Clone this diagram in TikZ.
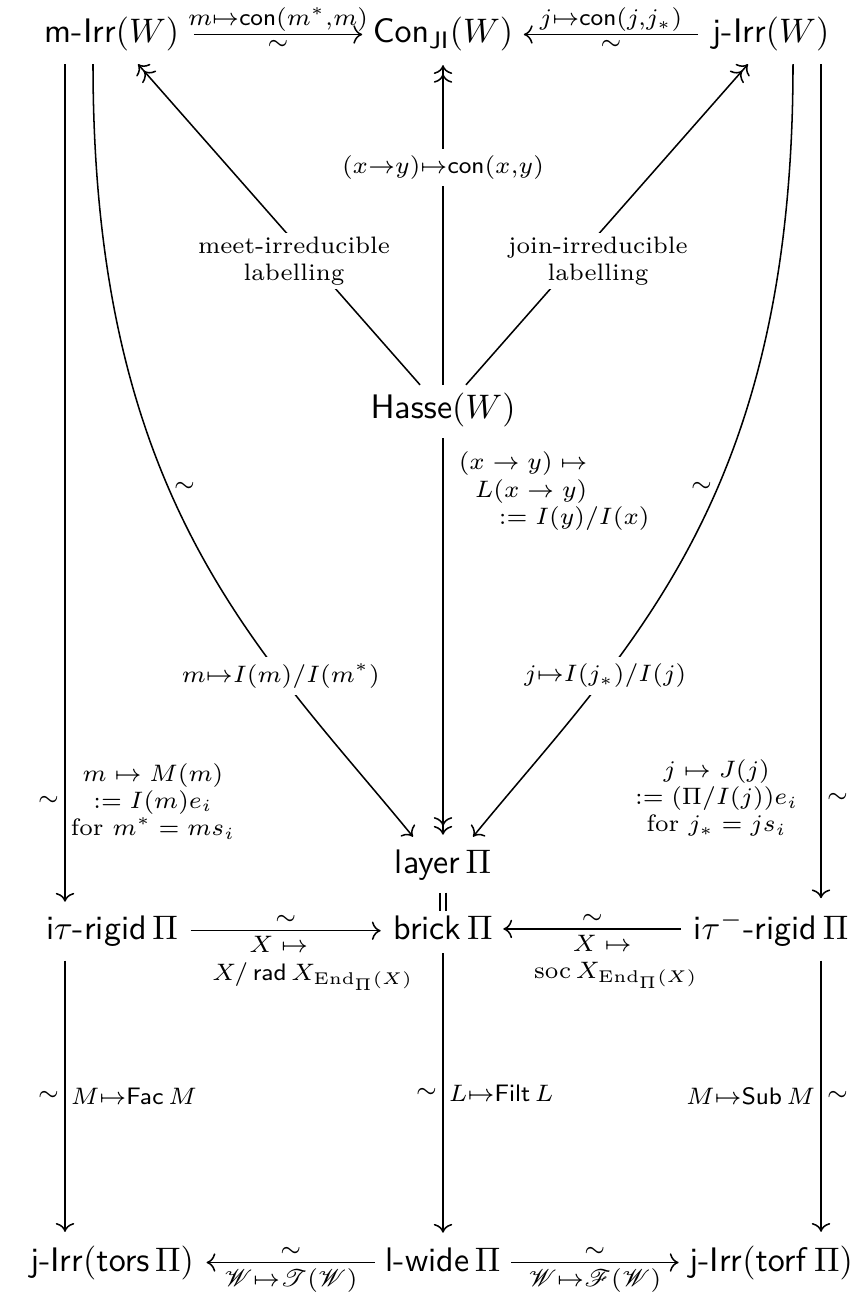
\documentclass[tikz,border=0pt]{standalone}
\usepackage{amsmath,amssymb,mathrsfs}
\usetikzlibrary{arrows.meta,calc}
\begin{document}
\begin{tikzpicture}[x=0.294pt,y=-0.294pt,
  >={Computer Modern Rightarrow[]},
  arr/.style={line width=0.45pt},
  obj/.style={inner sep=0pt, anchor=base},
  lab/.style={inner sep=1.5pt},
  toplab/.style={inner sep=0.6pt},
  desc/.style={inner sep=2pt, fill=white},
  sm/.style={font=\scriptsize, inner sep=1.5pt}
]
\useasboundingbox (0,0) rectangle (858,1301);

% objects
\node[obj] (mIrr) at (112,43) {\textsf{m-Irr}$(W)$};
\node[obj] (Con) at (443,43) {$\mathsf{Con}_{\mathsf{JI}}(W)$};
\node[obj] (jIrr) at (771,43) {\textsf{j-Irr}$(W)$};
\node[obj] (Hasse) at (443,419) {$\mathsf{Hasse}(W)$};
\node[obj] (layer) at (443,873) {\textsf{layer}$\,\Pi$};
\node[obj] (brick) at (443,939) {\textsf{brick}$\,\Pi$};
\node[obj] (itau) at (112,939) {\textsf{i}$\tau$\textsf{-rigid}$\,\Pi$};
\node[obj] (itaum) at (771,939) {\textsf{i}$\tau^{-}$\textsf{-rigid}$\,\Pi$};
\node[obj] (jtors) at (112,1271) {\textsf{j-Irr}$(\mathsf{tors}\,\Pi)$};
\node[obj] (lwide) at (443,1271) {\textsf{l-wide}$\,\Pi$};
\node[obj] (jtorf) at (771,1271) {\textsf{j-Irr}$(\mathsf{torf}\,\Pi)$};

% top row
\draw[arr,->] ($(mIrr.east)+(14,0)$) -- ($(Con.west |- mIrr.east)+(-10,0)$)
  node[toplab, midway, above] {$\scriptstyle m\mapsto\mathsf{con}(m^*,m)$}
  node[lab, midway, below] {$\scriptstyle\sim$};
\draw[arr,->] ($(jIrr.west)+(-14,0)$) -- ($(Con.east |- jIrr.west)+(10,0)$)
  node[toplab, midway, above] {$\scriptstyle j\mapsto\mathsf{con}(j,j_*)$}
  node[lab, midway, below] {$\scriptstyle\sim$};

% outer verticals (top part)
\draw[arr,->] ($(mIrr.south)+(-47,12)$) -- ($(itau.north)+(-47,-13)$)
  node[lab, pos=0.88, left] {$\scriptstyle\sim$}
  node[sm, pos=0.88, right, align=center] {$m\mapsto M(m)$\\$:=I(m)e_i$\\for $m^*=ms_i$};
\draw[arr,->] ($(jIrr.south)+(50,12)$) -- ($(itaum.north)+(50,-13)$)
  node[lab, pos=0.88, right] {$\scriptstyle\sim$}
  node[sm, pos=0.88, left=5pt, align=center] {$j\mapsto J(j)$\\$:=(\Pi/I(j))e_i$\\for $j_*=js_i$};

% curves
\draw[arr,->] ($(mIrr.south)+(-19,12)$) .. controls +(0,438) and +(-153,-187) .. ($(layer.north)+(-30,-12)$)
  node[lab, pos=0.42, right] {$\scriptstyle\sim$}
  node[desc, pos=0.71] {$\scriptstyle m\mapsto I(m)/I(m^*)$};
\draw[arr,->] ($(jIrr.south)+(22,12)$) .. controls +(0,438) and +(153,-187) .. ($(layer.north)+(30,-12)$)
  node[lab, pos=0.42, left] {$\scriptstyle\sim$}
  node[desc, pos=0.71] {$\scriptstyle j\mapsto I(j_*)/I(j)$};

% Hasse arrows
\draw[arr,->>] ($(Hasse.north)+(0,-8)$) -- ($(Con.south)+(0,13)$)
  node[desc, pos=0.68] {$\scriptstyle(x\to y)\mapsto\mathsf{con}(x,y)$};
\draw[arr,->>] ($(Hasse.north)+(-23,-8)$) -- ($(mIrr.south)+(26,12)$);
\draw[arr,->>] ($(Hasse.north)+(23,-8)$) -- ($(jIrr.south)+(-23,12)$);
\node[sm, fill=white, align=center, inner sep=1pt] (ml) at (294,261) {meet-irreducible\\labelling};
\node[sm, fill=white, align=center, inner sep=1pt] (jl) at (598,261) {join-irreducible\\labelling};

\draw[arr,->>] ($(Hasse.south)+(0,10)$) -- ($(layer.north)+(0,-14)$);
\node[sm, anchor=north west, align=left] (hl) at ($(Hasse.south)+(10,18)$)
  {$(x\to y)\mapsto$\\\hspace*{4.7pt}$L(x\to y)$\\\hspace*{11.8pt}$:=I(y)/I(x)$};

% equality
\draw[arr, double, double distance=1.4pt] ($(layer.south)+(0,12)$) -- ($(brick.north)+(0,-4)$);

% brick row
\draw[arr,->] ($(itau.east)+(12,0)$) -- ($(brick.west |- itau.east)+(-12,0)$)
  node[lab, midway, above] {$\scriptstyle\sim$}
  node[sm, midway, below, xshift=8pt, align=center] {$X\mapsto$\hspace*{20pt}\\$X/\,\mathsf{rad}\,X_{\mathrm{End}_\Pi(X)}$};
\draw[arr,->] ($(itaum.west)+(-12,0)$) -- ($(brick.east |- itaum.west)+(10,0)$)
  node[lab, midway, above] {$\scriptstyle\sim$}
  node[sm, midway, below, xshift=7pt, align=center] {$X\mapsto$\hspace*{8pt}\\$\mathrm{soc}\,X_{\mathrm{End}_\Pi(X)}$};

% lower verticals
\draw[arr,->] ($(itau.south)+(-47,14)$) -- ($(jtors.north)+(-47,-13)$)
  node[lab, midway, left] {$\scriptstyle\sim$}
  node[lab, midway, right] {$\scriptstyle M\mapsto\mathsf{Fac}\,M$};
\draw[arr,->] ($(brick.south)+(0,13)$) -- ($(lwide.north)+(0,-14)$)
  node[lab, midway, left] {$\scriptstyle\sim$}
  node[lab, midway, right] {$\scriptstyle L\mapsto\mathsf{Filt}\,L$};
\draw[arr,->] ($(itaum.south)+(50,14)$) -- ($(jtorf.north)+(50,-13)$)
  node[lab, midway, left] {$\scriptstyle M\mapsto\mathsf{Sub}\,M$}
  node[lab, midway, right] {$\scriptstyle\sim$};

% bottom row
\draw[arr,->] ($(lwide.west |- jtors.east)+(-10,0)$) -- ($(jtors.east)+(12,0)$)
  node[lab, midway, above] {$\scriptstyle\sim$}
  node[lab, midway, below] {$\scriptstyle\mathscr{W}\mapsto\mathscr{T}(\mathscr{W})$};
\draw[arr,->] ($(lwide.east |- jtorf.west)+(10,0)$) -- ($(jtorf.west)+(-10,0)$)
  node[lab, midway, above] {$\scriptstyle\sim$}
  node[lab, midway, below] {$\scriptstyle\mathscr{W}\mapsto\mathscr{F}(\mathscr{W})$};
\end{tikzpicture}
\end{document}
